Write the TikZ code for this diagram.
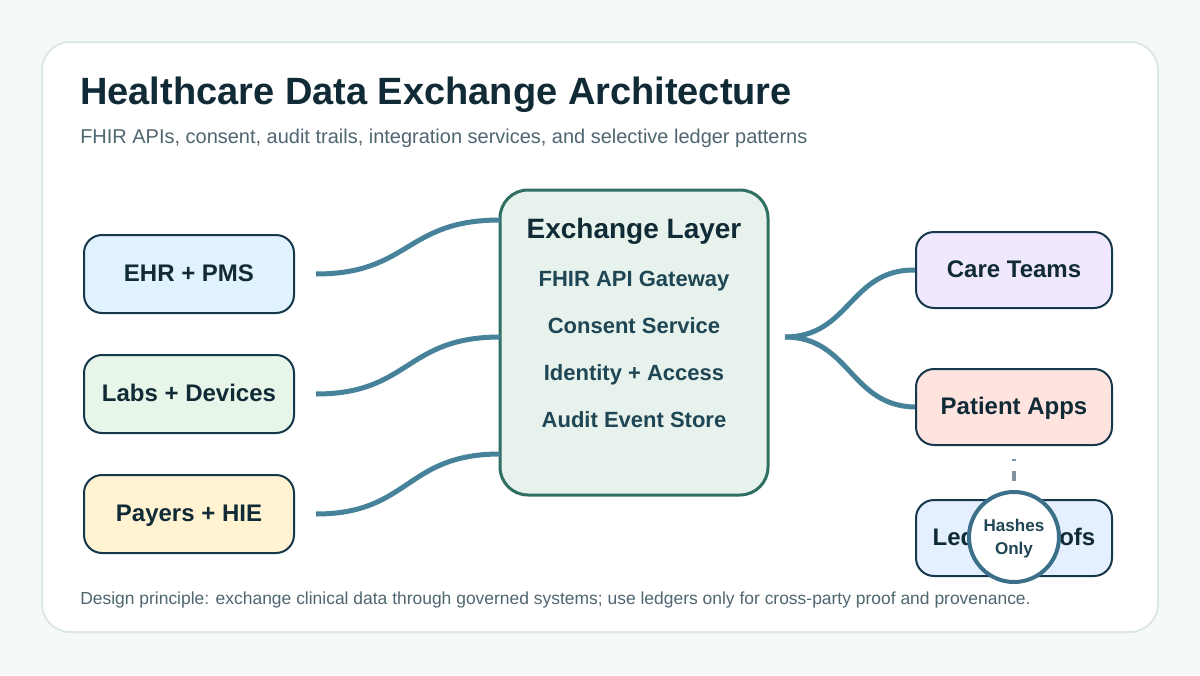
\documentclass[tikz,border=0pt]{standalone}
\usepackage{fontspec}
\setmainfont{Liberation Sans}
\definecolor{pagebg}{HTML}{F5F9F7}
\definecolor{cardline}{HTML}{DBE8E3}
\definecolor{ink}{HTML}{102A36}
\definecolor{muted}{HTML}{4F6670}
\definecolor{boxline}{HTML}{16384C}
\definecolor{flow}{HTML}{47829B}
\definecolor{ringline}{HTML}{3B7088}
\definecolor{hubfill}{HTML}{E7F2EC}
\definecolor{hubline}{HTML}{2F6F62}
\definecolor{hubtext}{HTML}{1F4654}
\definecolor{fa}{HTML}{E0F2FE}
\definecolor{fb}{HTML}{E8F6E9}
\definecolor{fc}{HTML}{FFF3D1}
\definecolor{fd}{HTML}{F0E8FF}
\definecolor{fe}{HTML}{FFE3DF}
\definecolor{ff}{HTML}{E4EFFF}
\definecolor{dashc}{HTML}{7F93A3}
\tikzset{
  x=0.75pt,y=-0.75pt,
  srcbox/.style={draw=boxline,line width=1.5pt,rounded corners=13.5pt,minimum width=157.5pt,minimum height=58.5pt,inner sep=0pt},
  dstbox/.style={srcbox,minimum width=147pt,minimum height=57pt},
  boxlabel/.style={inner sep=0pt,anchor=base,font=\fontsize{18pt}{20pt}\selectfont\bfseries,text=ink},
  flowline/.style={draw=flow,line width=3.75pt},
  item/.style={anchor=base,font=\fontsize{16.5pt}{20pt}\selectfont\bfseries,text=hubtext,inner sep=0pt},
  plain/.style={inner sep=0pt,anchor=base west},
}
\begin{document}
\begin{tikzpicture}
\useasboundingbox (0,0) rectangle (1200,675);
\fill[pagebg] (0,0) rectangle (1200,675);
\draw[draw=cardline,fill=white,line width=1.5pt,rounded corners=21pt] (42,42) rectangle (1158,632);
\node[plain,text=ink,font=\fontsize{28.5pt}{30pt}\selectfont\bfseries] (title) at (80,104) {Healthcare Data Exchange Architecture};
\node[plain,text=muted,font=\fontsize{14.98pt}{18pt}\selectfont] (sub) at (80,143) {FHIR APIs, consent, audit trails, integration services, and selective ledger patterns};
\node[plain,text=muted,font=\fontsize{13.09pt}{16pt}\selectfont] (foot) at (80,604) {Design principle: exchange clinical data through governed systems; use ledgers only for cross-party proof and provenance.};

\node[srcbox,fill=fa] (ehr) at (189,274) {};
\node[srcbox,fill=fb] (labs) at (189,394) {};
\node[srcbox,fill=fc] (payers) at (189,514) {};
\node[dstbox,fill=fd] (care) at (1014,270) {};
\node[dstbox,fill=fe] (patient) at (1014,407) {};
\node[dstbox,fill=ff] (ledger) at (1014,538) {};
\node[boxlabel] (ehrt) at (189,281) {EHR + PMS};
\node[boxlabel] (labst) at (189,401) {Labs + Devices};
\node[boxlabel] (payerst) at (189,521) {Payers + HIE};
\node[boxlabel] (caret) at (1014,277) {Care Teams};
\node[boxlabel] (patientt) at (1014,414) {Patient Apps};
\node[boxlabel] (ledgert) at (1014,545) {Ledger Proofs};

\node[draw=hubline,fill=hubfill,line width=2.25pt,rounded corners=21pt,minimum width=201pt,minimum height=228.75pt,inner sep=0pt] (hub) at (634,342.5) {};
\node[anchor=base,font=\fontsize{21pt}{24pt}\selectfont\bfseries,text=ink,inner sep=0pt] (hubt) at (634,238) {Exchange Layer};
\node[item] (i1) at (634,286) {FHIR API Gateway};
\node[item] (i2) at (634,333) {Consent Service};
\node[item] (i3) at (634,380) {Identity + Access};
\node[item] (i4) at (634,427) {Audit Event Store};

\coordinate (e1) at ([xshift=15.75pt]ehr.east);
\coordinate (e2) at ([xshift=15.75pt]labs.east);
\coordinate (e3) at ([xshift=15.75pt]payers.east);
\coordinate (h1) at (500,220);
\coordinate (h2) at (500,337);
\coordinate (h3) at (500,454);
\coordinate (r0) at (785,337);
\draw[flowline] (e1) .. controls (410,274) and (405,220) .. (h1);
\draw[flowline] (e2) .. controls (410,394) and (405,337) .. (h2);
\draw[flowline] (e3) .. controls (410,514) and (405,454) .. (h3);
\draw[flowline] (r0) .. controls (850,337) and (850,269) .. (care.west);
\draw[flowline] (r0) .. controls (850,337) and (850,406) .. (patient.west);
\draw[draw=dashc,line width=3pt,dash pattern=on 0pt off 9.75pt on 1.5pt off 7.5pt on 7.5pt off 40pt] (patient.south) -- (ledger.north);

\node[circle,draw=ringline,fill=white,line width=3pt,minimum size=67.5pt,inner sep=0pt] (hash) at (1014,537) {};
\node[inner sep=0pt,align=center,font=\fontsize{12.8pt}{17.25pt}\selectfont\bfseries,text=hubtext] (hasht) at (1014,538.5) {Hashes\\Only};
\end{tikzpicture}
\end{document}
